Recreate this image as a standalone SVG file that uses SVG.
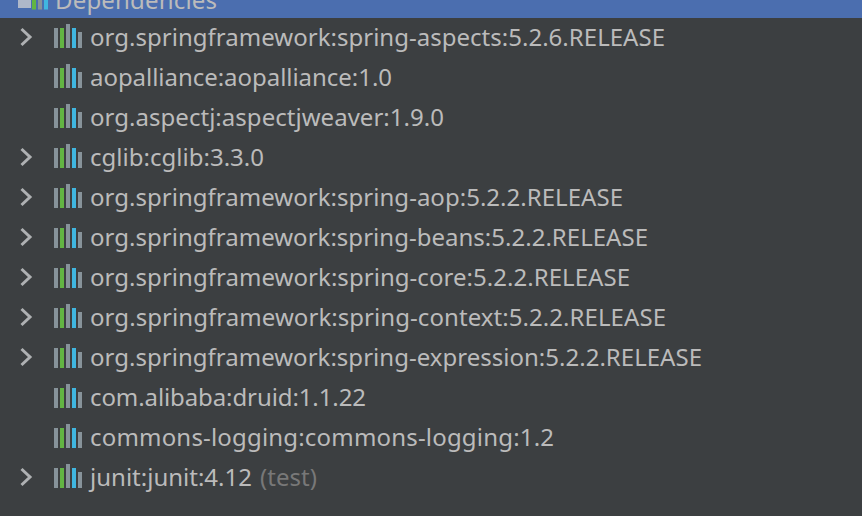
<svg xmlns="http://www.w3.org/2000/svg" width="862" height="516" viewBox="0 0 862 516">
<style>
text{font-family:"Noto Sans","Open Sans",sans-serif;font-size:24px;fill:#bbbbbb}
.g{fill:#87939a}.n{fill:#62b543}.b{fill:#40b6e0}
.chev{fill:none;stroke:#afb1b3;stroke-width:3}
</style>
<defs>
<g id="lib">
<rect class="g" x="54" y="28" width="4" height="20"/>
<rect class="n" x="60" y="28" width="4" height="20"/>
<rect class="g" x="66" y="24" width="4" height="24"/>
<rect class="b" x="72" y="28" width="4" height="20"/>
<rect class="g" x="78" y="32" width="4" height="16"/>
</g>
<path id="chev" class="chev" d="M21.500 29L30 37L21.500 45"/>
</defs>
<rect width="862" height="516" fill="#3c3f41"/>
<g id="header">
<rect width="862" height="18" fill="#4b6eaf"/>
<rect x="18" y="0" width="13" height="8" fill="#afb8c9"/>
<rect x="32" y="0" width="4" height="9.500" fill="#62b543"/>
<rect x="38" y="0" width="4" height="9.500" fill="#87939a"/>
<rect x="44" y="0" width="4" height="9.500" fill="#40b6e0"/>
<text x="55" y="9" textLength="162">Dependencies</text>
</g>
<g id="connectors"></g>
<g id="row1"><use href="#chev"/><use href="#lib"/><text x="90" y="45.500" textLength="575">org.springframework:spring-aspects:5.2.6.RELEASE</text></g>
<g id="row2"><use href="#lib" y="40"/><text x="90" y="85.500" textLength="302">aopalliance:aopalliance:1.0</text></g>
<g id="row3"><use href="#lib" y="80"/><text x="90" y="125.500" textLength="354">org.aspectj:aspectjweaver:1.9.0</text></g>
<g id="row4"><use href="#chev" y="120"/><use href="#lib" y="120"/><text x="90" y="165.500" textLength="174">cglib:cglib:3.3.0</text></g>
<g id="row5"><use href="#chev" y="160"/><use href="#lib" y="160"/><text x="90" y="205.500" textLength="533">org.springframework:spring-aop:5.2.2.RELEASE</text></g>
<g id="row6"><use href="#chev" y="200"/><use href="#lib" y="200"/><text x="90" y="245.500" textLength="558">org.springframework:spring-beans:5.2.2.RELEASE</text></g>
<g id="row7"><use href="#chev" y="240"/><use href="#lib" y="240"/><text x="90" y="285.500" textLength="540">org.springframework:spring-core:5.2.2.RELEASE</text></g>
<g id="row8"><use href="#chev" y="280"/><use href="#lib" y="280"/><text x="90" y="325.500" textLength="576">org.springframework:spring-context:5.2.2.RELEASE</text></g>
<g id="row9"><use href="#chev" y="320"/><use href="#lib" y="320"/><text x="90" y="365.500" textLength="612">org.springframework:spring-expression:5.2.2.RELEASE</text></g>
<g id="row10"><use href="#lib" y="360"/><text x="90" y="405.500" textLength="276">com.alibaba:druid:1.1.22</text></g>
<g id="row11"><use href="#lib" y="400"/><text x="90" y="445.500" textLength="464">commons-logging:commons-logging:1.2</text></g>
<g id="row12"><use href="#chev" y="440"/><use href="#lib" y="440"/><text x="90" y="485.500" textLength="162">junit:junit:4.12</text><text x="260" y="485.500" textLength="57" style="fill:#787878">(test)</text></g>
</svg>
